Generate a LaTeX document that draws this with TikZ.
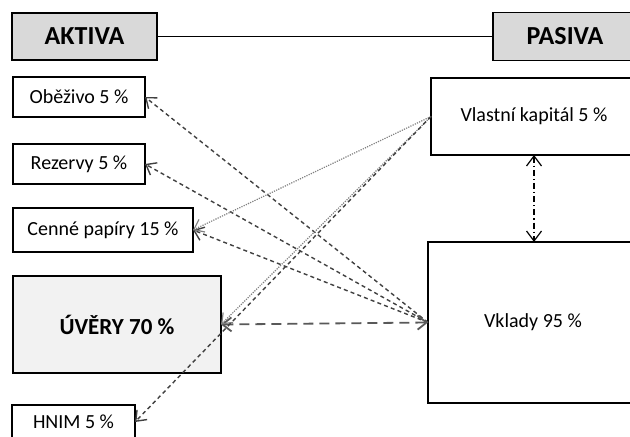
\documentclass[tikz,border=0pt]{standalone}
\usepackage{fontspec}
\setmainfont{Carlito}
\usetikzlibrary{positioning,arrows.meta}
\newcommand{\hlav}[1]{\fontsize{13}{15}\selectfont\textbf{#1}}
\definecolor{sedaHlav}{HTML}{D9D9D9}
\definecolor{sedaUver}{HTML}{F2F2F2}
\definecolor{sedaCara}{HTML}{404040}

\begin{document}
\begin{tikzpicture}[
    every node/.style={
        inner sep=0pt,
        outer sep=0pt,
        align=center,
        draw,
        line width=0.6pt,
        font=\fontsize{10}{12}\selectfont
      },
    hrot/.style={-{Straight Barb[length=4.5pt,width=7pt]}},
    carka/.style={hrot, sedaCara, line width=0.7pt, dash pattern=on 2pt off 1.6pt},
    tecka/.style={hrot, gray, line width=0.6pt, dash pattern=on 0.6pt off 0.6pt},
    dlouha/.style={{Straight Barb[length=4.5pt,width=7pt]}-{Straight Barb[length=4.5pt,width=7pt]},
      gray!70!black, line width=0.9pt, dash pattern=on 5pt off 3pt},
    carbod/.style={{Straight Barb[length=5pt,width=7.5pt]}-{Straight Barb[length=5pt,width=7.5pt]},
      black, line width=0.6pt, dash pattern=on 3pt off 1.5pt on 0.6pt off 1.5pt}
    ]

    \clip (0pt,0pt) rectangle (315pt,-218.5pt);

    % ============= AKTIVA (LEVA) ==================

    % -------------------------------
    \node[anchor=north west, fill=sedaHlav, minimum width=72.5pt, minimum height=23.5pt]
      (A) at (6pt,-6.5pt) {\hlav{AKTIVA}};
    % -------------------------------

    % -------------------------------
    \node[below=8.5pt of A.south west, anchor=north west, xshift=0.5pt,
      minimum width=66pt, minimum height=20pt] (O) {Oběživo 5 \%};
    % -------------------------------

    % -------------------------------
    \node[below=13.5pt of O.south west, anchor=north west,
      minimum width=66pt, minimum height=20pt] (R) {Rezervy 5 \%};
    % -------------------------------

    % -------------------------------
    \node[below=12pt of R.south west, anchor=north west,
      minimum width=90pt, minimum height=22pt] (CP) {Cenné papíry 15 \%};
    % -------------------------------

    % -------------------------------
    \node[below=12pt of CP.south west, anchor=north west, fill=sedaUver,
      minimum width=104pt, minimum height=48.5pt] (U)
      {\fontsize{11.5}{14}\selectfont\textbf{ÚVĚRY 70 \%}};
    % -------------------------------

    % -------------------------------
    \node[below=16pt of U.south west, anchor=north west, xshift=-0.5pt,
      minimum width=61.5pt, minimum height=17pt] (H) {HNIM 5 \%};
    % -------------------------------

    % ============= PASIVA (PRAVA) ==================

    % -------------------------------
    \node[right=168pt of A, fill=sedaHlav, minimum width=72pt, minimum height=24pt]
      (P) {\hlav{PASIVA}};
    % -------------------------------

    % -------------------------------
    \node[anchor=north west, minimum width=103pt, minimum height=38.5pt]
      (VK) at (215.5pt,-39pt) {Vlastní kapitál 5 \%};
    % -------------------------------

    % -------------------------------
    \node[below=43.5pt of VK.south west, anchor=north west, xshift=-1.5pt,
      minimum width=105pt, minimum height=80.5pt] (V) {Vklady 95 \%};
    % -------------------------------

    % ============= LINKY ==================
    \draw[line width=0.6pt] (A) -- (A -| P.west);

    \draw[carka] (V.west) -- (O.east);
    \draw[carka] (V.west) -- (R.east);
    \draw[carka] (V.west) -- (CP.east);
    \draw[dlouha] (U.east) -- (V.west);

    \draw[tecka] (VK.west) -- (CP.east);
    \draw[tecka] (VK.west) -- (U.east);
    \draw[carka] (VK.west) -- (H.east);

    \draw[carbod] (VK.south) -- (VK.south |- V.north);

  \end{tikzpicture}
\end{document}
